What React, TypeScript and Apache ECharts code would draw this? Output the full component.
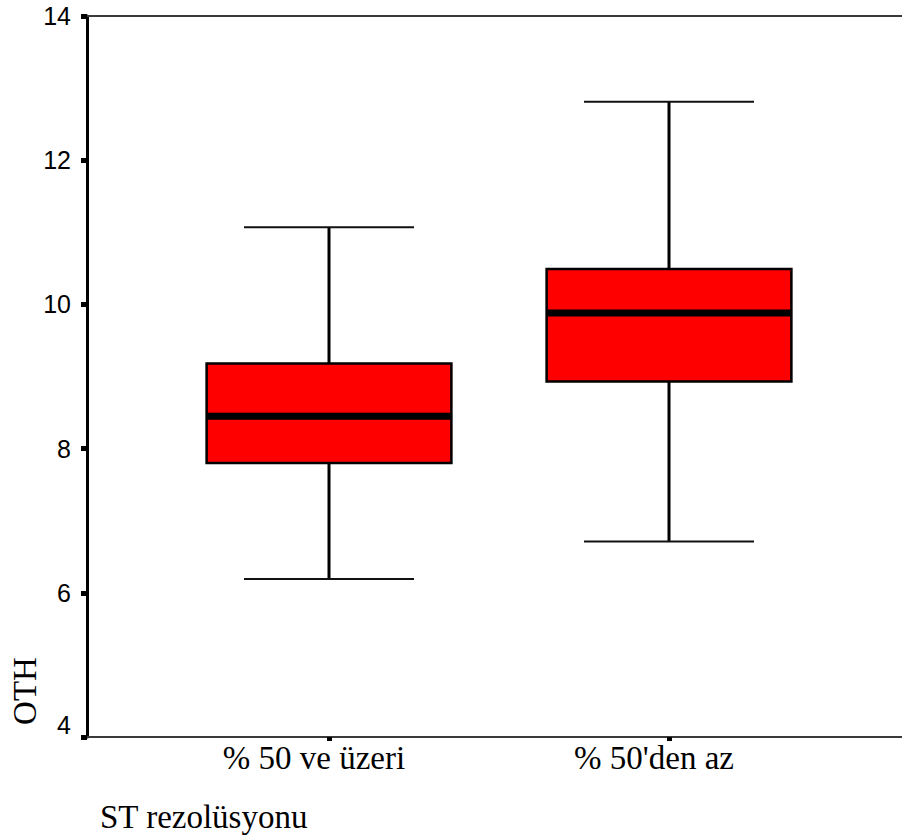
import React, { useEffect, useRef } from "react";
import * as echarts from "echarts";

const categories = ["% 50 ve üzeri", "% 50'den az"];
const whiskerLow = [6.19, 6.71];
const q1Values = [7.8, 8.93];
const medianValues = [8.45, 9.88];
const q3Values = [9.18, 10.49];
const whiskerHigh = [11.07, 12.81];
const yTicks = { min: 4, max: 14, interval: 2 };
const yAxisTitle = "OTH";
const xAxisTitle = "ST rezolüsyonu";

const SERIF = "Liberation Serif";
const SANS = "Liberation Sans";

export default function App() {
  const ref = useRef<HTMLDivElement>(null);
  useEffect(() => {
    document.body.style.margin = "0";
    const chart = echarts.init(ref.current!, null, { renderer: "svg" });
    const data = categories.map((_, i) => [
      i,
      whiskerLow[i],
      q1Values[i],
      medianValues[i],
      q3Values[i],
      whiskerHigh[i],
    ]);
    const lineColor = "#3a3a3a";
    chart.setOption({
      animation: false,
      backgroundColor: "#ffffff",
      textStyle: { fontFamily: SERIF },
      grid: [
        { left: 87, right: 0, top: 16, bottom: 103 },
        { left: 159, right: 63, top: 16, bottom: 103 },
      ],
      xAxis: [
        {
          gridIndex: 0,
          type: "value",
          min: 0,
          max: 1,
          position: "bottom",
          axisLine: { show: true, onZero: false, lineStyle: { color: lineColor, width: 2 } },
          axisTick: { show: false },
          axisLabel: { show: false },
          splitLine: { show: false },
        },
        {
          gridIndex: 0,
          type: "value",
          min: 0,
          max: 1,
          position: "top",
          axisLine: { show: true, onZero: false, lineStyle: { color: lineColor, width: 2 } },
          axisTick: { show: false },
          axisLabel: { show: false },
          splitLine: { show: false },
        },
        {
          gridIndex: 1,
          type: "category",
          data: categories,
          position: "bottom",
          axisLine: { show: false },
          axisTick: {
            show: true,
            alignWithLabel: true,
            length: 4,
            lineStyle: { color: "#000", width: 5 },
          },
          axisLabel: {
            color: "#000",
            fontFamily: SERIF,
            fontSize: 33,
            margin: 4,
            formatter: (v: string) => "{s|" + v + "}",
            rich: {
              s: {
                fontFamily: SERIF,
                fontSize: 33,
                color: "#000",
                padding: [0, 30, 0, 0],
              },
            },
          },
          splitLine: { show: false },
        },
      ],
      yAxis: [
        {
          gridIndex: 0,
          type: "value",
          min: yTicks.min,
          max: yTicks.max,
          interval: yTicks.interval,
          axisLine: { show: true, onZero: false, lineStyle: { color: "#000", width: 3 } },
          axisTick: { show: true, length: 6, lineStyle: { color: "#000", width: 5 } },
          axisLabel: {
            color: "#000",
            fontFamily: SANS,
            fontSize: 25,
            margin: 16,
            verticalAlignMinLabel: "bottom",
          },
          splitLine: { show: false },
        },
        {
          gridIndex: 1,
          type: "value",
          min: yTicks.min,
          max: yTicks.max,
          show: false,
        },
      ],
      series: [
        {
          type: "custom",
          xAxisIndex: 2,
          yAxisIndex: 1,
          data,
          encode: { x: 0, y: [1, 2, 3, 4, 5] },
          renderItem: (params: any, api: any) => {
            const idx = api.value(0);
            const band = api.size([1, 0])[0];
            const boxW = band * 0.72;
            const capW = band * 0.5;
            const pMin = api.coord([idx, api.value(1)]);
            const pQ1 = api.coord([idx, api.value(2)]);
            const pMed = api.coord([idx, api.value(3)]);
            const pQ3 = api.coord([idx, api.value(4)]);
            const pMax = api.coord([idx, api.value(5)]);
            const cx = pMin[0];
            const black = { stroke: "#000", lineWidth: 3 };
            return {
              type: "group",
              children: [
                { type: "line", shape: { x1: cx, y1: pQ3[1], x2: cx, y2: pMax[1] }, style: black },
                { type: "line", shape: { x1: cx, y1: pQ1[1], x2: cx, y2: pMin[1] }, style: black },
                {
                  type: "line",
                  shape: { x1: cx - capW / 2, y1: pMax[1], x2: cx + capW / 2, y2: pMax[1] },
                  style: { stroke: "#111", lineWidth: 2 },
                },
                {
                  type: "line",
                  shape: { x1: cx - capW / 2, y1: pMin[1], x2: cx + capW / 2, y2: pMin[1] },
                  style: { stroke: "#111", lineWidth: 2 },
                },
                {
                  type: "rect",
                  shape: { x: cx - boxW / 2, y: pQ3[1], width: boxW, height: pQ1[1] - pQ3[1] },
                  style: { fill: "#ff0000", stroke: "#000", lineWidth: 2.5 },
                },
                {
                  type: "line",
                  shape: { x1: cx - boxW / 2, y1: pMed[1], x2: cx + boxW / 2, y2: pMed[1] },
                  style: { stroke: "#000", lineWidth: 7 },
                },
              ],
            };
          },
        },
      ],
      graphic: [
        {
          type: "text",
          x: 25,
          y: 691,
          rotation: Math.PI / 2,
          style: {
            text: yAxisTitle,
            fontFamily: SERIF,
            fontSize: 33,
            fill: "#000",
            align: "center",
            verticalAlign: "middle",
          },
        },
        {
          type: "text",
          left: 100,
          top: 800,
          style: {
            text: xAxisTitle,
            fontFamily: SERIF,
            fontSize: 33,
            fill: "#000",
          },
        },
      ],
    });
    return () => chart.dispose();
  }, []);
  return <div ref={ref} style={{ width: 902, height: 840 }} />;
}
